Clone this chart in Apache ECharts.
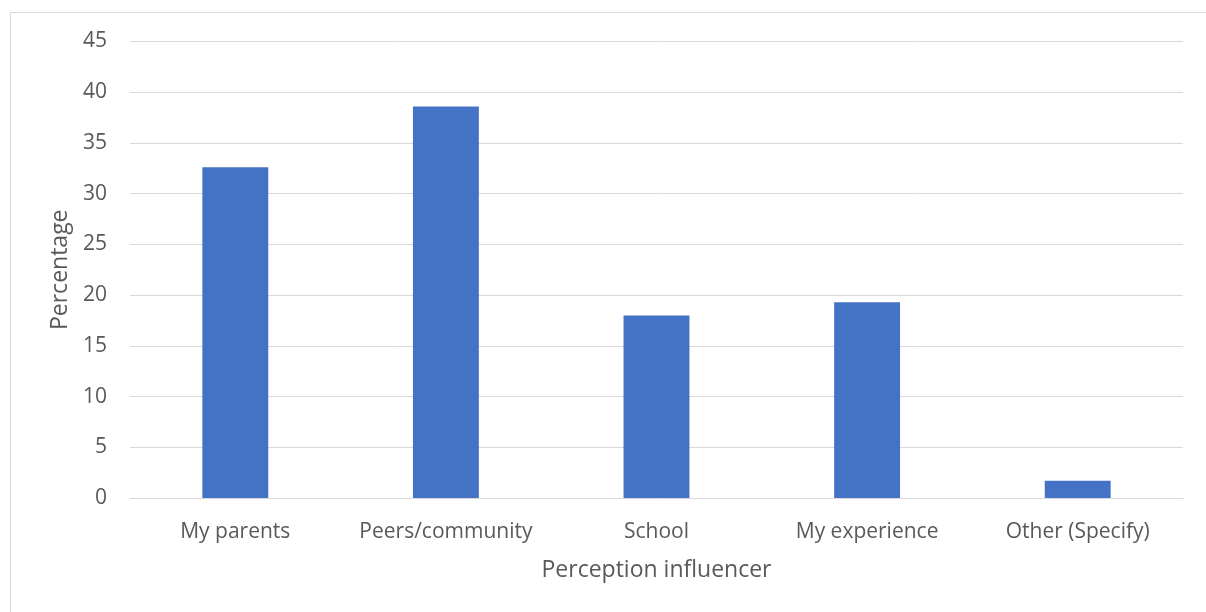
<!DOCTYPE html>
<html><head><meta charset="utf-8">
<script src="https://cdn.jsdelivr.net/npm/echarts@6/dist/echarts.min.js"></script>
<style>html,body{margin:0;padding:0;background:#fff}#c{width:1206px;height:612px}
#frame{position:absolute;left:10px;top:12px;width:1200px;height:610px;border:1px solid #d9d9d9;box-sizing:border-box;pointer-events:none}</style>
</head><body><div id="c"></div><div id="frame"></div>
<script>
const categories = ['My parents', 'Peers/community', 'School', 'My experience', 'Other (Specify)'];
const values = [32.6, 38.6, 18.0, 19.3, 1.7];
const xTitle = 'Perception influencer';
const yTitle = 'Percentage';
const chart = echarts.init(document.getElementById('c'));
const font = '"Open Sans", "Noto Sans", sans-serif';
chart.setOption({
  animation: false,
  grid: {left: 130, right: 23, top: 41.5, bottom: 114},
  xAxis: {
    type: 'category', data: categories,
    name: xTitle, nameLocation: 'middle', nameGap: 61,
    nameTextStyle: {color: '#595959', fontSize: 23, fontFamily: font},
    axisLine: {lineStyle: {color: '#d9d9d9', width: 1}},
    axisTick: {show: false},
    axisLabel: {color: '#595959', fontSize: 21, fontFamily: font, margin: 24, interval: 0, hideOverlap: false}
  },
  yAxis: {
    type: 'value', min: 0, max: 45, interval: 5,
    name: yTitle, nameLocation: 'middle', nameGap: 55,
    nameTextStyle: {color: '#595959', fontSize: 23, fontFamily: font},
    axisLine: {show: false}, axisTick: {show: false},
    splitLine: {lineStyle: {color: '#d9d9d9', width: 1}},
    axisLabel: {color: '#595959', fontSize: 21, fontFamily: font, margin: 23}
  },
  series: [{
    type: 'bar', data: values, barWidth: '31.3%',
    itemStyle: {color: '#4472c4'}
  }]
});
</script></body></html>
